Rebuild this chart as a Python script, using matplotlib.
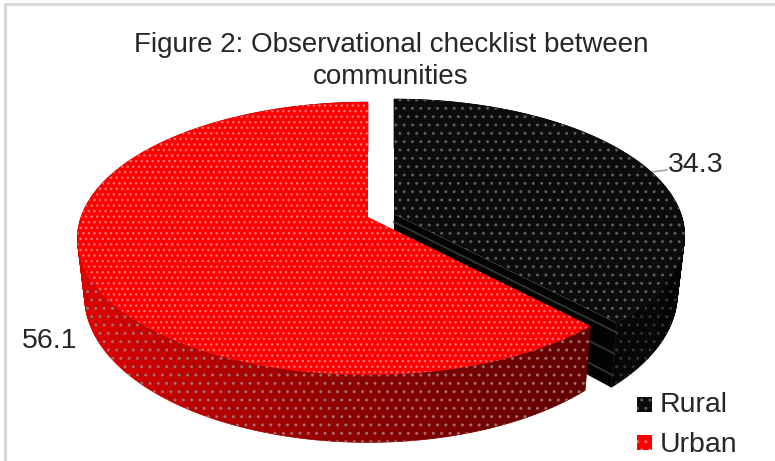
import numpy as np
import matplotlib
matplotlib.use('Agg')
import matplotlib.pyplot as plt
from matplotlib.patches import Polygon, Rectangle

plt.rcParams['font.family'] = ['Liberation Sans', 'DejaVu Sans']

# data
categories = ['Rural', 'Urban']
values = [34.3, 56.1]
value_labels = ['34.3', '56.1']
title_lines = ['Figure 2: Observational checklist between', 'communities']

# look of the fake 3D pie, in pixels of the picture
R = 287
S = 133
K = 0.157
H = 57
SHRINK = 0.975
centers = [(394, 214), (368, 217)]
top_cols = ['#0c0c0c', '#ff0000']
dot_cols = ['#5a5a5a', '#ff7272']
wall_dots = ['#333333', '#a56a6a']
hatches = ['..', '...']
text_col = '#262626'


def project(t, cx, cy, drop=0.0):
    # t is clockwise from 12 o'clock, back of the disc is further away
    X = np.sin(t)
    Y = np.cos(t)
    w = 1 + K * Y
    s = 1 - (1 - SHRINK) * drop / H
    return cx + s * R * X / w, cy - S * Y / w + drop / w


def side_col(i, x):
    if i == 0:
        return '#040404'
    return (np.interp(x, [85, 200, 340, 580], [0.86, 0.72, 0.56, 0.38]), 0, 0)


fig = plt.figure(figsize=(7.75, 4.61), dpi=100)
ax = fig.add_axes([0, 0, 1, 1])
ax.set_xlim(0, 775)
ax.set_ylim(461, 0)
ax.axis('off')

fracs = np.array(values) / sum(values)
starts = np.r_[0, np.cumsum(fracs)[:-1]] * 2 * np.pi
ends = np.cumsum(fracs) * 2 * np.pi

for i in range(len(values)):
    cx, cy = centers[i]
    t = np.linspace(starts[i], ends[i], 240)
    xt, yt = project(t, cx, cy)
    xb, yb = project(t, cx, cy, H)

    # outer wall
    for j in range(len(t) - 1):
        quad = [(xt[j], yt[j]), (xt[j + 1], yt[j + 1]), (xb[j + 1], yb[j + 1]), (xb[j], yb[j])]
        c = side_col(i, xt[j])
        ax.add_patch(Polygon(quad, closed=True, fc=c, ec=c, lw=0.5, zorder=2 + i * 3))
    wall = list(zip(xt, yt)) + list(zip(xb[::-1], yb[::-1]))
    ax.add_patch(Polygon(wall, closed=True, fc='none', ec=wall_dots[i], lw=0, hatch='..', zorder=2.5 + i * 3))

    # cut face of the rural slice, seen between the two slices
    if i == 0:
        face = [(cx, cy), (xt[-1], yt[-1]), (xb[-1], yb[-1]), (cx, cy + H)]
        ax.add_patch(Polygon(face, closed=True, fc='#030303', ec='none', zorder=2.6))
        for d in [8, 27, 46]:
            xe, ye = project(t[-1], cx, cy, d)
            ax.plot([cx, xe], [cy + d, ye], color='#343434', lw=1.3, zorder=2.7)

    # top
    top = [(cx, cy)] + list(zip(xt, yt))
    ax.add_patch(Polygon(top, closed=True, fc=top_cols[i], ec='none', zorder=3 + i * 3))
    ax.add_patch(Polygon(top, closed=True, fc='none', ec=dot_cols[i], lw=0, hatch=hatches[i], zorder=3.5 + i * 3))

# title
ax.text(391, 44.5, title_lines[0], ha='center', va='center', fontsize=20, color=text_col)
ax.text(391, 76.5, title_lines[1], ha='center', va='center', fontsize=20, color=text_col)

# value labels
ax.plot([640, 652, 667], [170, 172, 170], color='#a6a6a6', lw=1.2, zorder=1)
ax.text(668, 165, value_labels[0], ha='left', va='center', fontsize=20.5, color=text_col)
ax.text(22, 341, value_labels[1], ha='left', va='center', fontsize=20.5, color=text_col)

# legend
for i, name in enumerate(categories):
    ax.add_patch(Rectangle((637, 397 + i * 38), 15, 15, fc=top_cols[i], ec=dot_cols[i], lw=0, hatch='..', zorder=8))
    ax.text(660, 405 + i * 40, name, ha='left', va='center', fontsize=20.5, color=text_col)

# chart frame
ax.plot([4.5, 4.5, 775], [461, 4.5, 4.5], color='#d9d9d9', lw=2.2, zorder=0)

fig.savefig('out.png', dpi=100)
